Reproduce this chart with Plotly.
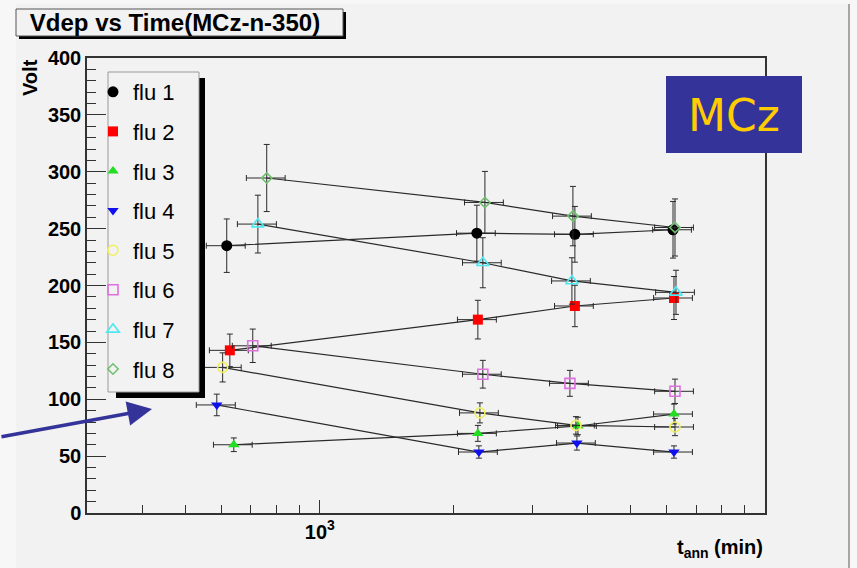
import math
import plotly.graph_objects as go

# ---------------- data ----------------
series_names = ["flu 1", "flu 2", "flu 3", "flu 4", "flu 5", "flu 6", "flu 7", "flu 8"]

t_ann = [
    [618, 2253, 3741, 6214],   # flu 1
    [628, 2265, 3741, 6245],   # flu 2
    [641, 2265, 3800, 6245],   # flu 3
    [587, 2277, 3780, 6245],   # flu 4
    [605, 2289, 3761, 6278],   # flu 5
    [707, 2324, 3646, 6278],   # flu 6
    [726, 2324, 3684, 6310],   # flu 7
    [760, 2349, 3703, 6278],   # flu 8
]
t_err = [
    [62, 225, 374, 621],
    [63, 227, 374, 625],
    [64, 227, 380, 625],
    [59, 228, 378, 625],
    [61, 229, 376, 628],
    [71, 232, 365, 628],
    [73, 232, 368, 631],
    [76, 235, 370, 628],
]
vdep = [
    [235, 246, 245, 249],
    [143, 170, 182, 189],
    [60, 70, 76.5, 87],
    [95, 53.6, 61.5, 53.6],
    [128, 88, 77, 75.6],
    [147, 122, 114, 107],
    [254, 220, 204, 194],
    [294.5, 273, 261, 251],
]
vdep_err = [
    [23.5, 24.6, 24.5, 24.9],
    [14.3, 17, 18.2, 18.9],
    [6, 7, 7.7, 8.7],
    [9.5, 5.4, 6.2, 5.4],
    [12.8, 8.8, 7.7, 7.6],
    [14.7, 12.2, 11.4, 10.7],
    [25.4, 22, 20.4, 19.4],
    [29.5, 27.3, 26.1, 25.1],
]
x_major_ticks = [1000]
x_major_text = ["10<sup>3</sup>"]
x_minor_ticks = [400, 500, 600, 700, 800, 900, 2000, 3000, 4000, 5000, 6000, 7000, 8000, 9000]

# ---------------- styles ----------------
marker_styles = [
    dict(symbol="circle", color="black", size=11),
    dict(symbol="square", color="#ff0000", size=10),
    dict(symbol="triangle-up", color="#22dd22", size=10),
    dict(symbol="triangle-down", color="#1010ee", size=10),
    dict(symbol="circle-open", color="#f0f060", size=10),
    dict(symbol="square-open", color="#e070e0", size=10),
    dict(symbol="triangle-up-open", color="#50e8f0", size=11),
    dict(symbol="diamond-open", color="#70c070", size=8),
]

W, H = 857, 568
L, R, T, B = 87, 765, 58, 513


def px(x):
    return (x - L) / (R - L)


def py(y):
    return (B - y) / (B - T)


FONT = "Liberation Sans, Arial, Helvetica, sans-serif"
ERRC = "#2a2a2a"

fig = go.Figure()

for i, name in enumerate(series_names):
    fig.add_trace(go.Scatter(
        x=t_ann[i], y=vdep[i], mode="lines",
        line=dict(color="#2a2a2a", width=1.2),
        showlegend=False, legendgroup=name, hoverinfo="skip",
    ))

for i, name in enumerate(series_names):
    ms = marker_styles[i]
    open_sym = ms["symbol"].endswith("open")
    fig.add_trace(go.Scatter(
        x=t_ann[i], y=vdep[i], mode="markers", name=name, legendgroup=name,
        marker=dict(symbol=ms["symbol"], color=ms["color"], size=ms["size"],
                    line=dict(width=1.6 if open_sym else 0, color=ms["color"])),
        error_x=dict(type="data", array=t_err[i], color=ERRC, thickness=1, width=3),
        error_y=dict(type="data", array=vdep_err[i], color=ERRC, thickness=1, width=3),
    ))

shapes = [
    # canvas
    dict(type="rect", xref="paper", yref="paper", x0=px(16), x1=px(849), y0=py(568), y1=py(4),
         fillcolor="#f2f2f2", line=dict(width=0), layer="below"),
    dict(type="line", xref="paper", yref="paper", x0=px(849), x1=px(849), y0=py(568), y1=py(4),
         line=dict(color="#8c8c8c", width=1.5), layer="above"),
    # title box
    dict(type="rect", xref="paper", yref="paper", x0=px(19), x1=px(346), y0=py(39), y1=py(12),
         fillcolor="black", line=dict(width=0), layer="above"),
    dict(type="rect", xref="paper", yref="paper", x0=px(16), x1=px(343), y0=py(36), y1=py(9),
         fillcolor="#f2f2f2", line=dict(color="#555555", width=1), layer="above"),
    # legend box
    dict(type="rect", xref="paper", yref="paper", x0=px(116), x1=px(205), y0=py(398), y1=py(78),
         fillcolor="black", line=dict(width=0), layer="above"),
    dict(type="rect", xref="paper", yref="paper", x0=px(108), x1=px(199), y0=py(392), y1=py(72),
         fillcolor="#f2f2f2", line=dict(color="#9a9a9a", width=1), layer="above"),
    # MCz box
    dict(type="rect", xref="paper", yref="paper", x0=px(666), x1=px(802), y0=py(153), y1=py(76),
         fillcolor="#333399", line=dict(width=0), layer="above"),
]

annotations = [
    dict(text="Volt", xref="paper", yref="paper", x=px(30), y=py(77), textangle=-90,
         xanchor="center", yanchor="middle",
         showarrow=False, font=dict(family=FONT, size=20, color="black", weight="bold")),
    dict(text="t<sub>ann</sub> (min)", xref="paper", yref="paper", x=1.0, y=py(548),
         xanchor="right", yanchor="middle", showarrow=False,
         font=dict(family=FONT, size=20, color="black", weight="bold")),
    dict(text="MCz", xref="paper", yref="paper", x=px(734), y=py(115), xanchor="center",
         yanchor="middle", showarrow=False,
         font=dict(family="Comic Sans MS, DejaVu Sans, sans-serif", size=44, color="#ffcc00")),
    dict(text="", xref="paper", yref="paper", x=px(152), y=py(409), ax=-152, ay=28,
         showarrow=True, arrowhead=2, arrowsize=1.4, arrowwidth=3.5, arrowcolor="#333399",
         standoff=0),
]

fig.update_layout(
    width=W, height=H, autosize=False,
    margin=dict(l=L, r=W - R, t=T, b=H - B, pad=0),
    paper_bgcolor="#f7f7f7", plot_bgcolor="#f2f2f2",
    title=dict(text="Vdep vs Time(MCz-n-350)", xref="container", yref="container",
               x=175 / W, y=1 - 23 / H, xanchor="center", yanchor="middle",
               font=dict(family=FONT, size=24, color="black", weight="bold")),
    showlegend=True,
    legend=dict(x=px(93), y=py(71), xanchor="left", yanchor="top",
                bgcolor="rgba(0,0,0,0)", borderwidth=0, traceorder="grouped",
                tracegroupgap=8, font=dict(family=FONT, size=22, color="black")),
    shapes=shapes, annotations=annotations,
    xaxis=dict(type="log", range=[math.log10(300), 4], showgrid=False, zeroline=False,
               showline=True, linecolor="#333333", linewidth=1.5, mirror=True,
               ticks="inside", tickvals=x_major_ticks, ticktext=x_major_text,
               ticklen=13, tickwidth=1.2, tickcolor="#333333",
               tickfont=dict(family=FONT, size=20, color="black", weight="bold"),
               minor=dict(tickvals=x_minor_ticks, ticks="inside", ticklen=8,
                          tickwidth=1.2, tickcolor="#333333", showgrid=False)),
    yaxis=dict(range=[0, 400], tick0=0, dtick=50, showgrid=False, zeroline=False,
               showline=True, linecolor="#333333", linewidth=1.5, mirror=True,
               ticks="inside", ticklen=19, tickwidth=1.2, tickcolor="#333333",
               tickfont=dict(family=FONT, size=20, color="black", weight="bold"),
               minor=dict(dtick=10, ticks="inside", ticklen=9, tickwidth=1.2,
                          tickcolor="#333333", showgrid=False)),
)

fig.write_html("out.html")
